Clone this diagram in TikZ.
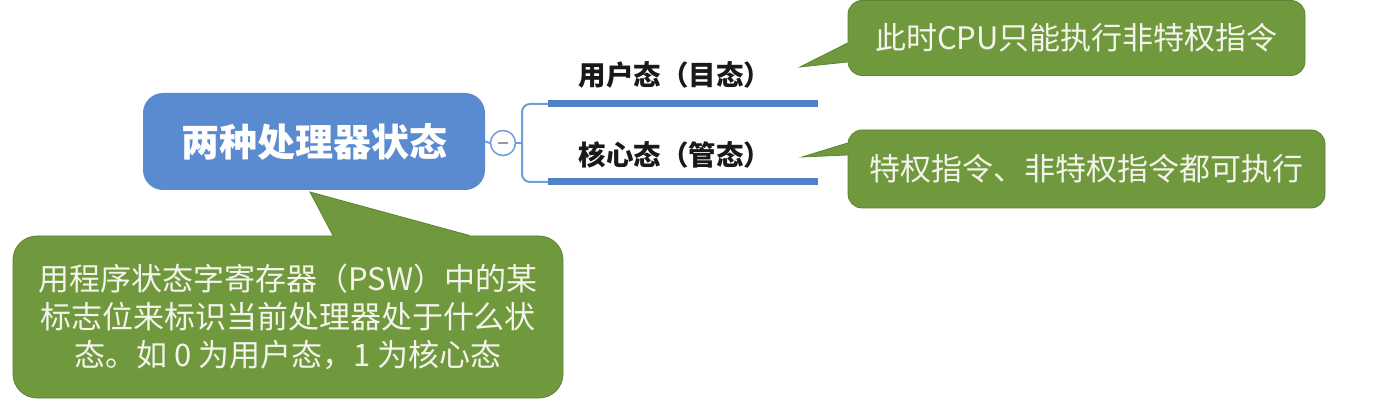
\documentclass[tikz,border=0pt]{standalone}
\usepackage{fontspec}
\setmainfont{Noto Sans CJK SC}
\definecolor{mainblue}{HTML}{5A8AD0}
\definecolor{lineblue}{HTML}{4F81C9}
\definecolor{thinblue}{HTML}{6E9DDB}
\definecolor{calgreen}{HTML}{70993E}
\definecolor{calborder}{HTML}{5C8434}
\definecolor{caltext}{HTML}{F4F4EC}
\tikzset{
  mainbox/.style={rectangle, rounded corners=20pt, fill=mainblue, text=white,
    font=\fontsize{38}{44}\selectfont\bfseries, inner sep=0pt},
  togglebtn/.style={circle, draw=thinblue, line width=1.5pt, fill=white, minimum size=25pt, inner sep=0pt},
  branchlabel/.style={font=\fontsize{27.5}{32}\selectfont\bfseries, text=black!90, inner sep=0pt},
  calbox/.style={rectangle, rounded corners=14pt, fill=calgreen, draw=calborder, line width=0.8pt,
    text=caltext, font=\fontsize{31}{38}\selectfont, inner sep=0pt, align=center},
  thinline/.style={draw=thinblue, line width=2pt},
  thickline/.style={draw=lineblue, line width=7pt},
  ptrfill/.style={fill=calgreen},
  ptrdraw/.style={draw=calborder, line width=0.8pt, line join=miter},
}
\begin{document}
\begin{tikzpicture}[x=1pt,y=-1pt]
\useasboundingbox (0,0) rectangle (1379,406);

% main node
\node[mainbox, minimum width=342pt, minimum height=97pt] (main) at (314,141.5) {两种处理器状态};
\node[togglebtn] (tog) at (503,143) {};
\draw[gray!80, line width=2pt] ([xshift=-5pt]tog.center) -- ([xshift=5pt]tog.center);

% branches
\coordinate (bx) at (522,143);
\coordinate (ul) at (548,104);
\coordinate (ur) at (818,104);
\coordinate (kl) at (548,182);
\coordinate (kr) at (818,182);
\draw[thinline] (main.east) -- (tog.west);
\draw[thinline] (tog.east) -- (bx);
\draw[thinline, rounded corners=8pt] (ul) -| (bx) |- (kl);
\draw[thickline] (ul) -- (ur);
\draw[thickline] (kl) -- (kr);
\node[branchlabel] (user) at (675,75) {用户态（目态）};
\node[branchlabel] (kern) at (675,155) {核心态（管态）};

% callout 1
\node[calbox, minimum width=457pt, minimum height=75pt] (c1) at (1076.5,38) {此时CPU只能执行非特权指令};
\coordinate (t1) at (800,67);
\coordinate (a1) at (c1.west |- 0,43);
\coordinate (b1) at (c1.west |- 0,62);
\fill[ptrfill] ([xshift=4pt]a1) -- (a1) -- (t1) -- (b1) -- ([xshift=4pt]b1) -- cycle;
\draw[ptrdraw] (a1) -- (t1) -- (b1);

% callout 2
\node[calbox, minimum width=477pt, minimum height=78pt] (c2) at (1086.5,169) {特权指令、非特权指令都可执行};
\coordinate (t2) at (802,157);
\coordinate (a2) at (c2.west |- 0,143);
\coordinate (b2) at (c2.west |- 0,155);
\fill[ptrfill] ([xshift=4pt]a2) -- (a2) -- (t2) -- (b2) -- ([xshift=4pt]b2) -- cycle;
\draw[ptrdraw] (a2) -- (t2) -- (b2);

% callout 3
\node[calbox, rounded corners=24pt, minimum width=550pt, minimum height=162pt] (c3) at (288,317)
  {用程序状态字寄存器（PSW）中的某\\标志位来标识当前处理器处于什么状\\态。如 0 为用户态，1 为核心态};
\coordinate (t3) at (310,192);
\coordinate (a3) at (333,0 |- c3.north);
\coordinate (b3) at (470,0 |- c3.north);
\fill[ptrfill] ([yshift=-4pt]a3) -- (a3) -- (t3) -- (b3) -- ([yshift=-4pt]b3) -- cycle;
\draw[ptrdraw] (a3) -- (t3) -- (b3);
\end{tikzpicture}
\end{document}
